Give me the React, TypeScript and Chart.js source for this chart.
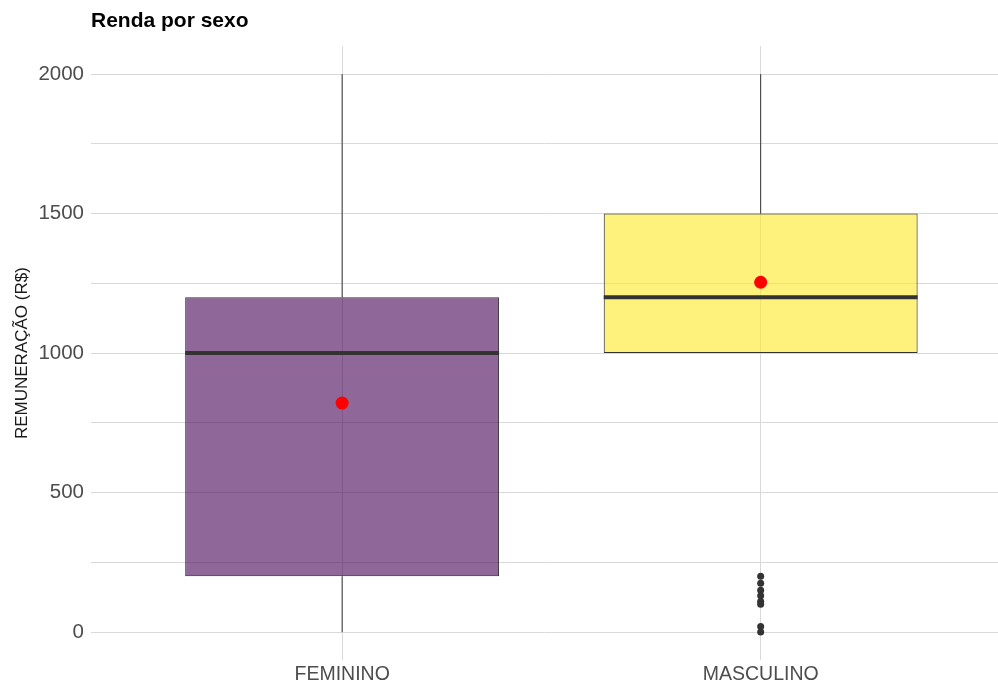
import React, { useEffect, useRef } from "react";
import { Chart, registerables } from "chart.js";

Chart.register(...registerables);

const categories = ["FEMININO", "MASCULINO"];
const positions = [1, 2];
const whiskerLow = [0, 1000];
const q1 = [200, 1000];
const medians = [1000, 1200];
const q3 = [1200, 1500];
const whiskerHigh = [2000, 2000];
const means = [821, 1254];
const outliersMasculino = [200, 175, 150, 130, 110, 100, 20, 0];
const yTicks = [0, 250, 500, 750, 1000, 1250, 1500, 1750, 2000];

const boxFills = ["rgba(68,1,84,0.6)", "rgba(253,231,37,0.6)"];
const GRID = "#d9d9d9";
const DARK = "#333333";

const boxPlugin = {
  id: "boxExtras",
  afterDatasetDraw(chart: any, args: any) {
    if (args.index !== 0) return;
    const ctx = chart.ctx;
    const xs = chart.scales.x;
    const ys = chart.scales.y;
    const meta = chart.getDatasetMeta(0);
    ctx.save();
    positions.forEach((p, i) => {
      const cx = xs.getPixelForValue(p);
      const bar = meta.data[i];
      const half = bar ? bar.width / 2 : 150;
      ctx.strokeStyle = DARK;
      ctx.lineWidth = 1;
      ctx.beginPath();
      ctx.moveTo(cx, ys.getPixelForValue(q3[i]));
      ctx.lineTo(cx, ys.getPixelForValue(whiskerHigh[i]));
      ctx.moveTo(cx, ys.getPixelForValue(q1[i]));
      ctx.lineTo(cx, ys.getPixelForValue(whiskerLow[i]));
      ctx.stroke();
      ctx.lineWidth = 4;
      ctx.beginPath();
      const my = ys.getPixelForValue(medians[i]);
      ctx.moveTo(cx - half, my);
      ctx.lineTo(cx + half, my);
      ctx.stroke();
    });
    ctx.restore();
  },
};

export default function App() {
  const ref = useRef<HTMLCanvasElement>(null);
  useEffect(() => {
    if (!ref.current) return;
    const chart = new Chart(ref.current, {
      type: "bar",
      data: {
        datasets: [
          {
            type: "bar",
            data: positions.map((p, i) => ({ x: p, y: [q1[i], q3[i]] })) as any,
            backgroundColor: boxFills,
            borderColor: DARK,
            borderWidth: 1,
            borderSkipped: false,
            categoryPercentage: 1,
            barPercentage: 0.75,
            order: 2,
          } as any,
          {
            type: "scatter",
            data: outliersMasculino.map((v) => ({ x: positions[1], y: v })),
            backgroundColor: DARK,
            borderColor: DARK,
            pointRadius: 3.5,
            borderWidth: 0,
            order: 1,
          } as any,
          {
            type: "scatter",
            data: positions.map((p, i) => ({ x: p, y: means[i] })),
            backgroundColor: "#ff0000",
            borderColor: "#ff0000",
            pointRadius: 6.5,
            borderWidth: 0,
            order: 0,
          } as any,
        ],
      },
      options: {
        animation: false,
        responsive: false,
        maintainAspectRatio: false,
        layout: { padding: 0, autoPadding: false },
        plugins: {
          legend: { display: false },
          tooltip: { enabled: false },
          title: {
            display: true,
            text: "Renda por sexo",
            align: "start",
            fullSize: false,
            color: "#000000",
            font: { family: "Liberation Sans", size: 21, weight: "bold" },
            padding: { top: 9, bottom: 12 },
          },
        },
        scales: {
          x: {
            type: "linear",
            min: 0.4,
            max: 2.567,
            offset: false,
            afterBuildTicks: (s: any) => {
              s.ticks = positions.map((v) => ({ value: v }));
            },
            afterFit: (s: any) => {
              s.height = 22;
              s.paddingLeft = 0;
              s.paddingRight = 0;
            },
            ticks: {
              callback: (v: any) => categories[Number(v) - 1] ?? "",
              color: "#4d4d4d",
              font: { family: "Liberation Sans", size: 19.5 },
              padding: 3,
              maxRotation: 0,
              autoSkip: false,
            },
            grid: { color: GRID, lineWidth: 1, drawTicks: false, offset: false },
            border: { display: false },
          },
          y: {
            type: "linear",
            min: -100,
            max: 2100,
            afterBuildTicks: (s: any) => {
              s.ticks = yTicks.map((v) => ({ value: v }));
            },
            afterFit: (s: any) => {
              s.width = 91;
            },
            ticks: {
              callback: (v: any) => (Number(v) % 500 === 0 ? String(v) : ""),
              color: "#4d4d4d",
              font: { family: "Liberation Sans", size: 20.5 },
              padding: 7,
            },
            grid: { color: GRID, lineWidth: 1, drawTicks: false },
            border: { display: false },
            title: {
              display: true,
              text: "REMUNERAÇÃO (R$)",
              color: "#1a1a1a",
              font: { family: "Liberation Sans", size: 17 },
              padding: { top: 12, bottom: 0 },
            },
          },
        },
      },
      plugins: [boxPlugin],
    });
    return () => chart.destroy();
  }, []);
  return (
    <div style={{ position: "fixed", left: 0, top: 0, width: 998, height: 682, background: "#fff" }}>
      <canvas ref={ref} width={998} height={682} style={{ display: "block" }} />
    </div>
  );
}
